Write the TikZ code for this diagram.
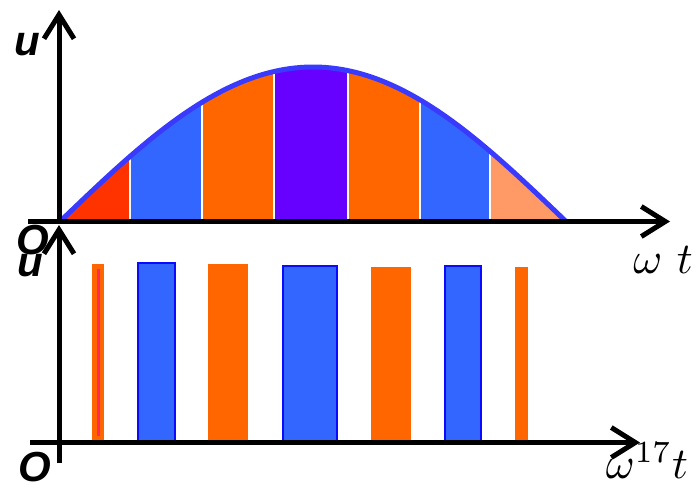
\documentclass[tikz,border=0pt]{standalone}
\usepackage{fontspec}
\setsansfont{Liberation Sans}
\usetikzlibrary{arrows.meta}

\definecolor{segred}{HTML}{FF3300}
\definecolor{segblue}{HTML}{3366FF}
\definecolor{segorange}{HTML}{FF6600}
\definecolor{segpurple}{HTML}{6600FF}
\definecolor{seglight}{HTML}{FF9966}
\definecolor{curveblue}{HTML}{3A3AFF}
\definecolor{baredge}{HTML}{0A0AFF}
\definecolor{barpink}{HTML}{FF2A55}

\begin{document}
\begin{tikzpicture}[x=1pt, y=-1pt,
        axis/.style={line width=5pt, -{Straight Barb[length=24pt, width=30pt]}},
        lbl/.style={font=\fontsize{42}{42}\selectfont\sffamily\bfseries\itshape, inner sep=0pt},
        wt/.style={scale=4.4, inner sep=0pt},
        bluebar/.style={draw=baredge, fill=segblue, line width=1.5pt}
    ]
        \useasboundingbox (0,0) rectangle (700,490);

        % upper graph: half sine cut into strips
        \foreach \a/\b/\c in {60/130/segred, 130/202/segblue, 202/274/segorange, 274/348/segpurple,
                               348/420/segorange, 420/490/segblue, 490/566/seglight}
            \fill[\c] (\a,221.5) -- plot[domain=\a:\b, samples=25] (\x,{221.5-154.5*sin((\x-60)/506*180)}) -- (\b,221.5) -- cycle;
        \foreach \b in {130,202,274,348,420,490}
            \draw[white, line width=2pt] (\b,221.5) -- (\b,{221.5-154.5*sin((\b-60)/506*180)});
        \draw[curveblue, line width=5pt] plot[domain=60:566, samples=100] (\x,{221.5-154.5*sin((\x-60)/506*180)});

        % lower graph: pulses
        \foreach \l/\t/\r in {92/264/104, 208/264/248, 371/267/411, 515/267/528}
            \fill[segorange] (\l,\t) rectangle (\r,441);
        \fill[barpink] (97,269) rectangle (100,436);
        \foreach \l/\t/\r in {138/263/175, 283/266/337, 445/266/481}
            \draw[bluebar] (\l,\t) rectangle (\r,442);

        % axes
        \coordinate (o1) at (59,221.5);
        \coordinate (x1) at (670,221.5);
        \coordinate (y1) at (59,10);
        \coordinate (s1) at (28,221.5);
        \coordinate (o2) at (59,442.5);
        \coordinate (x2) at (640,442.5);
        \coordinate (y2) at (59,225);
        \coordinate (s2) at (30,442.5);
        \coordinate (b2) at (59,463);

        \draw[axis] (s1) -- (x1);
        \draw[axis] (o1) -- (y1);
        \draw[axis] (s2) -- (x2);
        \draw[axis] (b2) -- (y2);

        \node[lbl] (u1) at (27,45) {u};
        \node[lbl] (o1lbl) at (33,240) {O};
        \node[lbl] (u2) at (30,266) {u};
        \node[wt] (wt1) at (663,260) {$\omega\ t$};
        \node[lbl] (o2lbl) at (35,467) {O};
        \node[wt] (wt2) at (647,461) {$\omega^{17}t$};
    \end{tikzpicture}
\end{document}
